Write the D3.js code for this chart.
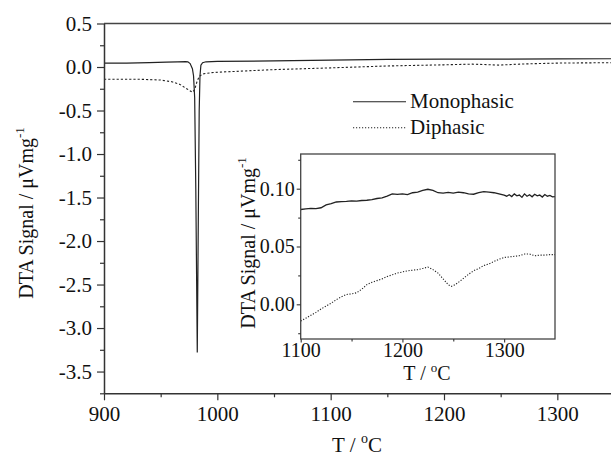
<!DOCTYPE html>
<html><head><meta charset="utf-8">
<script src="https://cdn.jsdelivr.net/npm/d3@7"></script>
<style>
body{margin:0;background:#fff;}
svg{display:block;}
svg text{font-family:"Liberation Serif","Times New Roman",Tinos,"DejaVu Serif",serif !important;}
</style></head>
<body><svg id="c" width="611" height="457"></svg>
<script>
// ---- main plot data ----
const monoT = [900,920,940,955,965,972,974,976,978,979,980,981,982.3,983.3,984,984.7,985.5,987,990,1000,1050,1100,1150,1200,1250,1300,1350];
const monoV = [0.045,0.045,0.05,0.055,0.06,0.062,0.06,0.04,-0.02,-0.1,-0.35,-1.4,-3.28,-1.6,-0.5,-0.1,0.02,0.05,0.06,0.065,0.07,0.08,0.087,0.09,0.09,0.093,0.095];
const diT = [900,930,950,960,967,973,978,980,982,984,987,995,1000,1050,1100,1150,1200,1225,1248,1270,1300,1350];
const diV = [-0.14,-0.14,-0.15,-0.17,-0.2,-0.25,-0.29,-0.26,-0.17,-0.11,-0.08,-0.065,-0.06,-0.03,-0.01,0.012,0.025,0.033,0.022,0.035,0.045,0.05];
const mainXTicks = [900,1000,1100,1200,1300];
const mainYTicks = [0.5,0.0,-0.5,-1.0,-1.5,-2.0,-2.5,-3.0,-3.5];

// ---- inset data ----
const inMonoT = [1100,1105,1110,1115,1120,1125,1130,1135,1140,1145,1150,1155,1160,1165,1170,1175,1180,1185,1190,1195,1200,1205,1210,1215,1220,1225,1230,1235,1240,1245,1250,1255,1260,1265,1270,1275,1280,1285,1290,1295,1300,1302.5,1305,1307.5,1310,1312.5,1315,1317.5,1320,1322.5,1325,1327.5,1330,1332.5,1335,1337.5,1340,1342.5,1345,1347.5,1350];
const inMonoV = [0.082,0.0825,0.083,0.0828,0.0835,0.086,0.087,0.0885,0.0888,0.089,0.0895,0.0893,0.0898,0.090,0.0905,0.0915,0.092,0.0935,0.0955,0.095,0.0955,0.0948,0.0965,0.097,0.0985,0.0995,0.0985,0.0965,0.0962,0.0968,0.0962,0.097,0.0965,0.0955,0.0952,0.0965,0.0975,0.097,0.0965,0.0955,0.0945,0.0935,0.0948,0.0932,0.0955,0.0938,0.0945,0.0925,0.0955,0.0935,0.0948,0.0930,0.0952,0.0938,0.0945,0.0928,0.0950,0.0935,0.0942,0.0930,0.0932];
const inDiT = [1100,1105,1110,1115,1120,1125,1130,1135,1140,1145,1150,1155,1160,1165,1170,1175,1180,1185,1190,1195,1200,1205,1210,1215,1220,1225,1230,1235,1240,1245,1248,1252,1258,1265,1270,1275,1280,1285,1290,1295,1300,1305,1310,1315,1320,1325,1330,1335,1340,1345,1350];
const inDiV = [-0.0145,-0.012,-0.0095,-0.007,-0.004,-0.0015,0.001,0.004,0.0065,0.0085,0.009,0.010,0.013,0.017,0.019,0.0205,0.022,0.024,0.0255,0.027,0.028,0.029,0.0295,0.030,0.031,0.0322,0.030,0.027,0.022,0.017,0.0155,0.017,0.021,0.026,0.029,0.031,0.0335,0.035,0.037,0.039,0.0405,0.041,0.0415,0.042,0.0435,0.0435,0.042,0.0425,0.0425,0.043,0.043];
const inXTicks = [1100,1200,1300];
const inYTicks = [0.00,0.05,0.10];

const seriesNames = ["Monophasic","Diphasic"];

const svg = d3.select("#c");
const ink = "#222";
const FONT = '"Liberation Serif","Times New Roman",Tinos,"DejaVu Serif",serif';
const FS = 21;
const IFS = 20;

// ---------- main ----------
const x = d3.scaleLinear().domain([900,1350]).range([104,614]);
const y = d3.scaleLinear().domain([-3.75,0.5]).range([393.3,23.5]);

const line = d3.line().x(d=>x(d[0])).y(d=>y(d[1]));
const mono = monoT.map((t,i)=>[t,monoV[i]]);
const di = diT.map((t,i)=>[t,diV[i]]);

svg.append("path").datum(di).attr("d",line).attr("fill","none").attr("stroke",ink).attr("stroke-width",1.1).attr("stroke-dasharray","2.2,2");
svg.append("path").datum(mono).attr("d",line).attr("fill","none").attr("stroke",ink).attr("stroke-width",1.2);

// frame
svg.append("line").attr("x1",104).attr("x2",614).attr("y1",y(0.5)).attr("y2",y(0.5)).attr("stroke","#444").attr("stroke-width",1.5);
svg.append("line").attr("x1",614).attr("x2",614).attr("y1",y(0.5)).attr("y2",y(-3.75)).attr("stroke","#444").attr("stroke-width",1.5);

const xAxis = d3.axisBottom(x).tickValues(mainXTicks).tickSize(7).tickSizeOuter(0).tickPadding(6).tickFormat(d3.format("d"));
const gx = svg.append("g").attr("transform",`translate(0,${y(-3.75)})`).call(xAxis);
const gxm = svg.append("g").attr("transform",`translate(0,${y(-3.75)})`).call(d3.axisBottom(x).tickValues(d3.range(950,1350,100)).tickSize(4).tickSizeOuter(0).tickFormat(""));
gxm.select(".domain").remove();

const yAxis = d3.axisLeft(y).tickValues(mainYTicks).tickSize(7).tickSizeOuter(0).tickPadding(5).tickFormat(d3.format(".1f"));
const gy = svg.append("g").attr("transform",`translate(104,0)`).call(yAxis);
const gym = svg.append("g").attr("transform",`translate(104,0)`).call(d3.axisLeft(y).tickValues(d3.range(-3.75,0.5,0.5).map(v=>+v.toFixed(2))).tickSize(4).tickSizeOuter(0).tickFormat(""));
gym.select(".domain").remove();

[gx,gy,gxm,gym].forEach(g=>{
  g.attr("font-family",FONT);
  g.selectAll(".domain").attr("stroke","#333").attr("stroke-width",1.5);
  g.selectAll(".tick line").attr("stroke","#333").attr("stroke-width",1.2);
  g.selectAll("text").attr("font-size",FS).attr("fill","#111");
});
gy.selectAll("text").text(d=> d<0 ? "-"+d3.format(".1f")(-d) : d3.format(".1f")(d));

// axis titles
const xt = svg.append("text").attr("x",357).attr("y",452).attr("text-anchor","middle").attr("font-size",FS).attr("fill","#111");
xt.append("tspan").text("T / ");
xt.append("tspan").attr("font-size",14).attr("dy",-9).text("o");
xt.append("tspan").attr("dy",9).text("C");

const yt = svg.append("text").attr("transform","translate(33,213) rotate(-90)").attr("text-anchor","middle").attr("font-size",20).attr("fill","#111");
yt.append("tspan").text("DTA Signal / μVmg");
yt.append("tspan").attr("font-size",13).attr("dy",-9).text("-1");

// legend
const legY = [101.7,127.7];
seriesNames.forEach((n,i)=>{
  svg.append("line").attr("x1",353).attr("x2",406).attr("y1",legY[i]).attr("y2",legY[i])
    .attr("stroke",ink).attr("stroke-width",1.1).attr("stroke-dasharray", i===1 ? "1.2,1.8" : null);
  svg.append("text").attr("x",410).attr("y",legY[i]+6.5).attr("font-size",FS).attr("fill","#111").text(n);
});

// ---------- inset ----------
const ix = d3.scaleLinear().domain([1100,1350]).range([300.7,555]);
const iy = d3.scaleLinear().domain([-0.03,0.13]).range([339,154]);
svg.append("rect").attr("x",300.7).attr("y",154).attr("width",254.3).attr("height",185).attr("fill","#fff");
svg.append("clipPath").attr("id","ic").append("rect").attr("x",300.7).attr("y",154).attr("width",254.3).attr("height",185);
const iline = d3.line().x(d=>ix(d[0])).y(d=>iy(d[1]));
const ig = svg.append("g").attr("clip-path","url(#ic)");
ig.append("path").datum(inDiT.map((t,i)=>[t,inDiV[i]])).attr("d",iline).attr("fill","none").attr("stroke",ink).attr("stroke-width",1.1).attr("stroke-dasharray","1.2,1.6");
ig.append("path").datum(inMonoT.map((t,i)=>[t,inMonoV[i]])).attr("d",iline).attr("fill","none").attr("stroke",ink).attr("stroke-width",1.3);

svg.append("rect").attr("x",300.7).attr("y",154).attr("width",254.3).attr("height",185).attr("fill","none").attr("stroke","#444").attr("stroke-width",1.3);

const igx = svg.append("g").attr("transform","translate(0,339)").call(d3.axisBottom(ix).tickValues(inXTicks).tickSize(3.5).tickSizeOuter(0).tickPadding(0).tickFormat(d3.format("d")));
const igxm = svg.append("g").attr("transform","translate(0,339)").call(d3.axisBottom(ix).tickValues([1150,1250]).tickSize(2.5).tickSizeOuter(0).tickFormat(""));
const igy = svg.append("g").attr("transform","translate(300.7,0)").call(d3.axisLeft(iy).tickValues(inYTicks).tickSize(4).tickSizeOuter(0).tickPadding(2).tickFormat(d3.format(".2f")));
const igym = svg.append("g").attr("transform","translate(300.7,0)").call(d3.axisLeft(iy).tickValues([-0.025,0.025,0.075,0.125]).tickSize(2.5).tickSizeOuter(0).tickFormat(""));
[igx,igxm,igy,igym].forEach(g=>{
  g.attr("font-family",FONT);
  g.select(".domain").remove();
  g.selectAll(".tick line").attr("stroke","#333").attr("stroke-width",1.1);
  g.selectAll("text").attr("font-size",IFS).attr("fill","#111");
});

const ixt = svg.append("text").attr("x",427).attr("y",380).attr("text-anchor","middle").attr("font-size",IFS).attr("fill","#111");
ixt.append("tspan").text("T / ");
ixt.append("tspan").attr("font-size",13).attr("dy",-8).text("o");
ixt.append("tspan").attr("dy",8).text("C");

const iyt = svg.append("text").attr("transform","translate(255,243) rotate(-90)").attr("text-anchor","middle").attr("font-size",20).attr("fill","#111");
iyt.append("tspan").text("DTA Signal / μVmg");
iyt.append("tspan").attr("font-size",13).attr("dy",-9).text("-1");
</script></body></html>
